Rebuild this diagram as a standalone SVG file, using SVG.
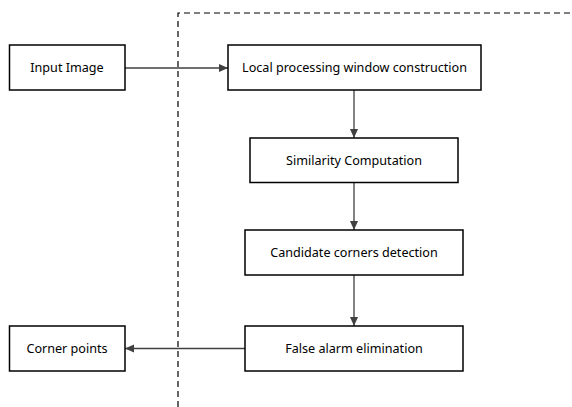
<svg xmlns="http://www.w3.org/2000/svg" width="572" height="407" viewBox="0 0 572 407">
<style>
.box{fill:#fff;stroke:#000;stroke-width:1.5}
.t{font-family:"Noto Sans","Open Sans",sans-serif;font-size:12.6px;fill:#000;text-anchor:middle;dominant-baseline:central}
.c{stroke:#404040;stroke-width:1.3;fill:none}
.d{stroke:#000;stroke-width:1.2;stroke-dasharray:6,4;fill:none}
</style>
<defs>
<marker id="ah" markerWidth="10" markerHeight="10" refX="9" refY="5" orient="auto" markerUnits="userSpaceOnUse">
<path d="M0,1 L9,5 L0,9 z" fill="#404040"/>
</marker>
</defs>
<g id="boundary">
<path class="d" d="M178,407 L178,13 L572,13"/>
</g>
<g id="connectors">
<path class="c" d="M125,68 L228,68" marker-end="url(#ah)"/>
<path class="c" d="M354,90 L354,138" marker-end="url(#ah)"/>
<path class="c" d="M354,182 L354,230" marker-end="url(#ah)"/>
<path class="c" d="M354,275 L354,326" marker-end="url(#ah)"/>
<path class="c" d="M245,348.5 L125,348.5" marker-end="url(#ah)"/>
</g>
<g id="input">
<rect class="box" x="9.5" y="45" width="115.5" height="45"/>
<text class="t" x="67" y="67.5">Input Image</text>
</g>
<g id="local">
<rect class="box" x="228" y="45" width="253" height="45"/>
<text class="t" x="354.5" y="67.5">Local processing window construction</text>
</g>
<g id="similarity">
<rect class="box" x="250" y="138" width="208" height="44.5"/>
<text class="t" x="354" y="160">Similarity Computation</text>
</g>
<g id="candidate">
<rect class="box" x="245" y="230" width="218" height="45"/>
<text class="t" x="354" y="252.5">Candidate corners detection</text>
</g>
<g id="false">
<rect class="box" x="245" y="326" width="218" height="45"/>
<text class="t" x="354" y="348.5">False alarm elimination</text>
</g>
<g id="corner">
<rect class="box" x="9.5" y="326" width="115.5" height="45"/>
<text class="t" x="67" y="348.5">Corner points</text>
</g>
</svg>
